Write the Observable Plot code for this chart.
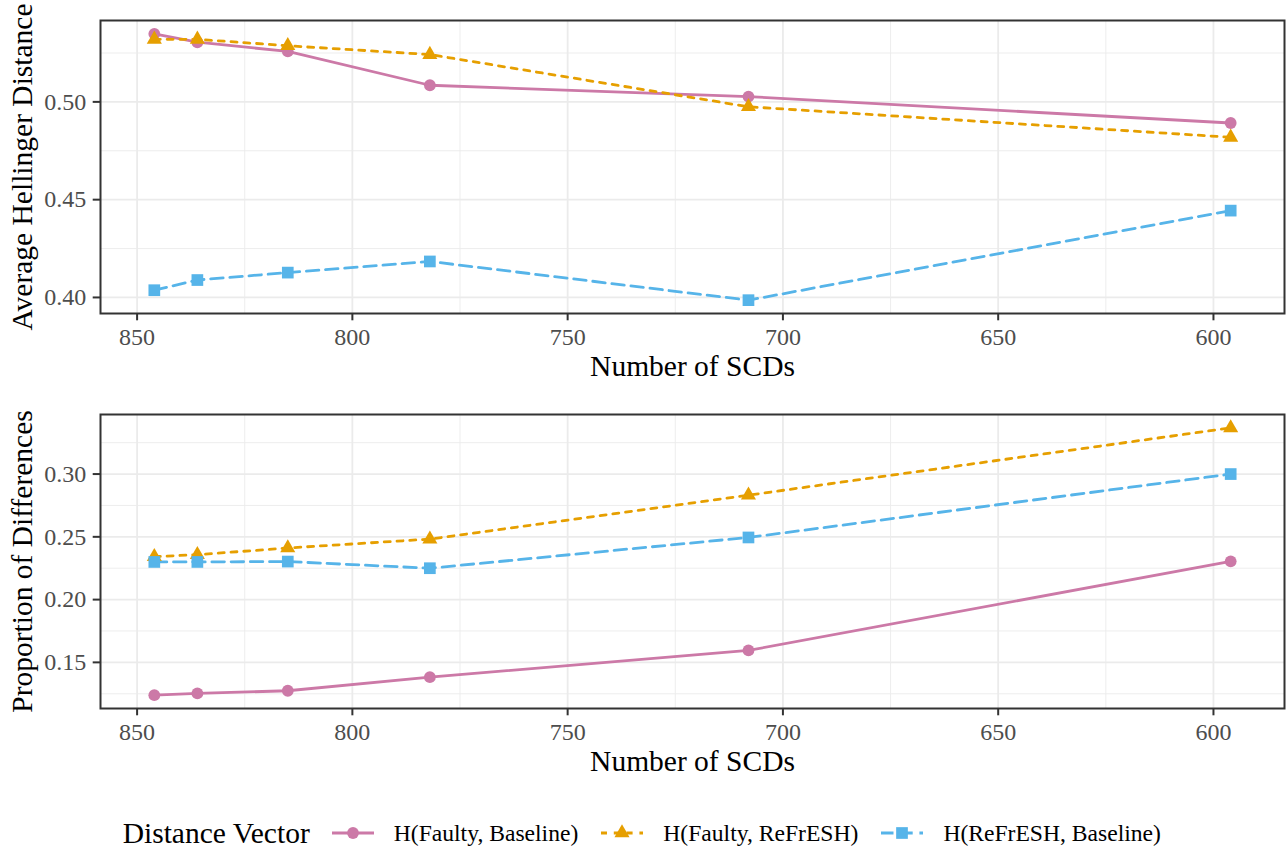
<!DOCTYPE html>
<html><head><meta charset="utf-8">
<script src="https://cdn.jsdelivr.net/npm/d3@7"></script>
<script src="https://cdn.jsdelivr.net/npm/@observablehq/plot@0.6"></script>
<style>
html,body{margin:0;padding:0;background:#fff;}
body{width:1286px;height:848px;position:relative;overflow:hidden;font-family:"Liberation Serif","Times New Roman",serif;}
.panel{position:absolute;left:0;}
#top{top:0;}
#bottom{top:394px;}
#legend{position:absolute;left:122.7px;top:813px;height:40px;display:flex;align-items:center;white-space:nowrap;color:#000;}
#legend .ttl{font-size:29.5px;margin-right:22px;}
#legend .key{width:42px;height:24px;margin-right:20px;display:block;}
#legend .lab{font-size:23.6px;margin-right:23px;}
</style>
</head><body>
<div id="top" class="panel"></div>
<div id="bottom" class="panel"></div>
<div id="legend"></div>
<script>
// ---- data ----
const scds = [846, 836, 815, 782, 708, 596];
const seriesNames = ["H(Faulty, Baseline)", "H(Faulty, ReFrESH)", "H(ReFrESH, Baseline)"];
const hellingerFaultyBaseline = [0.5348, 0.5305, 0.5258, 0.5085, 0.5027, 0.4892];
const hellingerFaultyRefresh  = [0.5320, 0.5320, 0.5287, 0.5242, 0.4975, 0.4819];
const hellingerRefreshBaseline = [0.4037, 0.4089, 0.4127, 0.4184, 0.3986, 0.4444];
const propFaultyBaseline = [0.1239, 0.1253, 0.1274, 0.1382, 0.1595, 0.2305];
const propFaultyRefresh  = [0.2342, 0.2358, 0.2411, 0.2482, 0.2832, 0.3368];
const propRefreshBaseline = [0.2300, 0.2300, 0.2303, 0.2250, 0.2495, 0.3000];
const xTicks = [850, 800, 750, 700, 650, 600];
const xMinor = [825, 775, 725, 675, 625];
const topYTicks = [0.40, 0.45, 0.50];
const topYMinor = [0.425, 0.475, 0.525];
const bottomYTicks = [0.15, 0.20, 0.25, 0.30];
const bottomYMinor = [0.125, 0.175, 0.225, 0.275, 0.325];
const xTitle = "Number of SCDs";
const topYTitle = "Average Hellinger Distance";
const bottomYTitle = "Proportion of Differences";
const legendTitle = "Distance Vector";

// ---- styles ----
const seriesStyle = [
  {color: "#CC79A7", dash: null, symbol: "circle", r: 5.9},
  {color: "#E69F00", dash: "6,6.8", symbol: "triangle", r: 5.6},
  {color: "#56B4E9", dash: "12.5,6.7", symbol: "square", r: 6.6}
];

function expand(vals, f = 0.05) {
  const [a, b] = d3.extent(vals);
  const p = (b - a) * f;
  return [a - p, b + p];
}

function makeRows(seriesValues) {
  const rows = [];
  seriesValues.forEach((vals, si) => {
    vals.forEach((v, i) => rows.push({scd: scds[i], value: v, series: seriesNames[si], si}));
  });
  return rows;
}

const xDomain = expand(scds).reverse();

function panel(seriesValues, yTicks, yMinor, yTitle, marginBottom) {
  const rows = makeRows(seriesValues);
  const yDomain = expand(seriesValues.flat());
  const gridStyle = {stroke: "#EBEBEB", strokeOpacity: 1};
  const marks = [
    Plot.gridX(xMinor, {...gridStyle, strokeWidth: 0.9}),
    Plot.gridY(yMinor, {...gridStyle, strokeWidth: 0.9}),
    Plot.gridX(xTicks, {...gridStyle, strokeWidth: 1.8}),
    Plot.gridY(yTicks, {...gridStyle, strokeWidth: 1.8})
  ];
  seriesStyle.forEach((s, si) => {
    const data = rows.filter(d => d.si === si);
    marks.push(Plot.line(data, {x: "scd", y: "value", stroke: s.color, strokeWidth: 2.8, strokeDasharray: s.dash}));
  });
  seriesStyle.forEach((s, si) => {
    const data = rows.filter(d => d.si === si);
    marks.push(Plot.dot(data, {x: "scd", y: "value", fill: s.color, stroke: null, symbol: s.symbol, r: s.r}));
  });
  marks.push(
    Plot.frame({stroke: "#333333", strokeWidth: 2}),
    Plot.axisX(xTicks, {tickSize: 7.3, tickPadding: 7.5, stroke: "#333333", strokeWidth: 2, fill: "#4D4D4D", fontSize: 24, label: null}),
    Plot.axisY(yTicks, {tickSize: 7.3, tickPadding: 7, stroke: "#333333", strokeWidth: 2, fill: "#4D4D4D", fontSize: 24, tickFormat: d3.format(".2f"), label: null}),
    Plot.text([xTitle], {text: d => d, frameAnchor: "bottom", dy: 62, lineAnchor: "bottom", fontSize: 29.5, fill: "#000"}),
    Plot.text([yTitle], {text: d => d, frameAnchor: "left", rotate: -90, dx: -69, lineAnchor: "bottom", textAnchor: "middle", fontSize: 29.5, fill: "#000"})
  );
  return Plot.plot({
    width: 1286,
    height: 394,
    marginTop: 20,
    marginBottom,
    marginLeft: 100,
    marginRight: 2,
    x: {type: "linear", domain: xDomain, axis: null},
    y: {type: "linear", domain: yDomain, axis: null},
    style: {fontFamily: '"Liberation Serif", "Times New Roman", serif', background: "#fff", overflow: "visible"},
    marks
  });
}

document.getElementById("top").append(panel(
  [hellingerFaultyBaseline, hellingerFaultyRefresh, hellingerRefreshBaseline], topYTicks, topYMinor, topYTitle, 81));
document.getElementById("bottom").append(panel(
  [propFaultyBaseline, propFaultyRefresh, propRefreshBaseline], bottomYTicks, bottomYMinor, bottomYTitle, 80));

// ---- legend ----
const legend = d3.select("#legend");
legend.append("span").attr("class", "ttl").text(legendTitle);
const symMap = {circle: d3.symbolCircle, triangle: d3.symbolTriangle, square: d3.symbolSquare};
seriesNames.forEach((name, i) => {
  const s = seriesStyle[i];
  const svg = legend.append("svg").attr("class", "key").attr("width", 42).attr("height", 24);
  svg.append("line").attr("x1", 0).attr("x2", 42).attr("y1", 12).attr("y2", 12)
    .attr("stroke", s.color).attr("stroke-width", 2.8).attr("stroke-dasharray", s.dash);
  svg.append("path").attr("transform", "translate(21,12)")
    .attr("d", d3.symbol(symMap[s.symbol], Math.PI * s.r * s.r)()).attr("fill", s.color);
  legend.append("span").attr("class", "lab").text(name);
});
</script>
</body></html>
